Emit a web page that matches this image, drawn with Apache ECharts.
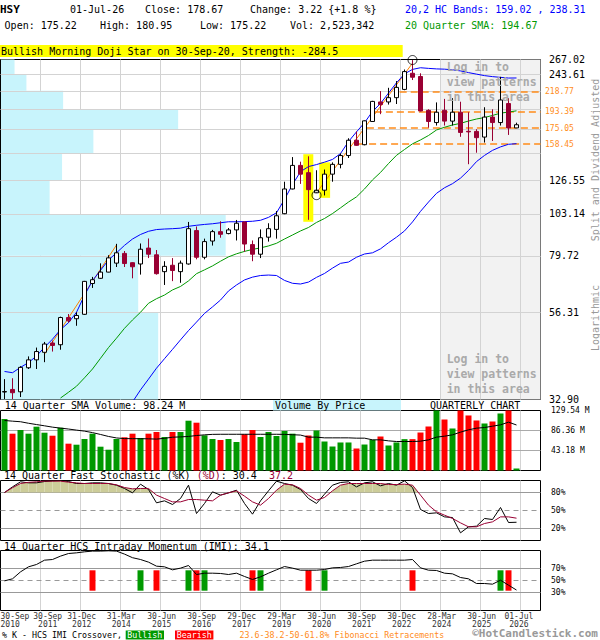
<!DOCTYPE html>
<html><head><meta charset="utf-8">
<script src="https://cdn.jsdelivr.net/npm/echarts@6/dist/echarts.min.js"></script>
<style>html,body{margin:0;padding:0;background:#fff}#c{width:600px;height:640px}</style>
</head><body><div id="c"></div>
<script>
// ---------------- DATA ----------------
const quarters = ['2010Q3','2010Q4','2011Q1','2011Q2','2011Q3','2011Q4','2012Q1','2012Q2','2012Q3','2012Q4',
 '2013Q1','2013Q2','2013Q3','2013Q4','2014Q1','2014Q2','2014Q3','2014Q4','2015Q1','2015Q2',
 '2015Q3','2015Q4','2016Q1','2016Q2','2016Q3','2016Q4','2017Q1','2017Q2','2017Q3','2017Q4',
 '2018Q1','2018Q2','2018Q3','2018Q4','2019Q1','2019Q2','2019Q3','2019Q4','2020Q1','2020Q2',
 '2020Q3','2020Q4','2021Q1','2021Q2','2021Q3','2021Q4','2022Q1','2022Q2','2022Q3','2022Q4',
 '2023Q1','2023Q2','2023Q3','2023Q4','2024Q1','2024Q2','2024Q3','2024Q4','2025Q1','2025Q2',
 '2025Q3','2025Q4','2026Q1','2026Q2','2026Q3'];
const open = [34.45,35.0,34.5,40.0,42.0,44.0,46.6,46.1,54.5,54.1,
 55.6,67.2,69.4,72.1,76.2,80.9,76.4,75.8,83.6,80.2,
 72.3,75.2,72.3,75.8,93.1,79.0,87.3,92.5,91.4,93.5,
 98.2,85.4,80.5,89.4,93.8,103.3,120.3,139.1,133.0,117.5,
 119.4,131.8,140.0,147.8,162.4,158.0,182.3,205.6,205.6,211.1,
 222.1,245.3,240.5,195.2,181.1,195.3,182.7,193.0,171.6,171.5,
 165.6,187.3,181.1,203.6,175.22];
const high = [37.3,37.5,40.4,42.9,45.3,46.9,47.3,54.8,55.7,56.3,
 68.3,70.0,76.1,80.0,85.8,82.1,76.6,86.0,88.7,82.6,
 77.1,78.6,77.4,98.2,95.5,88.6,93.5,98.6,94.6,99.4,
 98.4,87.6,93.8,97.4,105.0,125.8,146.4,142.3,147.1,135.0,
 135.6,141.7,149.6,164.4,171.5,183.5,207.0,219.8,224.3,233.8,
 251.0,266.0,245.3,196.5,205.0,209.5,210.4,205.9,193.0,173.8,
 199.0,196.5,240.0,210.4,180.95];
const low = [33.0,33.0,33.4,39.7,39.7,41.4,44.2,44.7,52.8,51.8,
 55.4,65.4,69.2,72.0,74.4,74.4,69.4,71.0,78.6,71.0,
 66.6,68.2,67.5,75.5,78.0,78.0,84.9,89.1,91.0,87.6,
 81.7,77.1,78.6,87.0,88.6,103.0,120.0,124.1,99.5,117.3,
 115.6,125.8,136.6,145.6,156.8,157.4,182.0,190.7,202.3,203.0,
 221.0,235.3,194.0,175.5,177.8,177.8,177.8,165.9,140.1,150.4,
 160.1,161.7,177.8,167.8,175.22];
const close = [34.55,34.3,40.1,42.0,44.2,46.3,45.9,54.5,53.4,55.2,
 68.1,68.8,72.1,78.7,81.2,76.0,74.5,83.0,80.5,71.4,
 74.7,72.8,76.2,94.2,79.0,87.0,92.5,91.0,93.5,97.4,
 85.7,80.5,89.1,94.2,102.0,120.3,139.1,131.8,119.8,119.4,
 131.8,140.0,147.8,162.4,157.4,183.0,206.3,202.3,211.1,224.9,
 247.9,239.4,194.5,182.3,193.0,182.7,193.0,170.4,171.0,165.0,
 187.3,181.1,208.1,175.1,178.67];
const volume = [111.2,79.5,87.4,79.5,94.6,81.6,75.1,92.4,57.9,55.7,
 68.0,79.5,51.4,44.9,68.0,71.7,79.5,70.2,79.5,83.1,
 72.3,83.1,83.1,107.5,103.2,76.0,68.0,65.8,68.0,61.5,
 78.2,87.4,72.3,83.1,74.5,85.3,79.5,60.0,75.6,86.4,
 62.6,51.8,60.5,60.5,47.5,56.1,66.2,73.4,54.0,60.5,
 67.7,67.7,82.0,95.0,132.0,110.1,90.7,132.0,118.8,108.0,
 101.5,105.8,123.1,132.0,2.52];
const volumeSma = [108,106.5,105.3,102,99.2,96.5,93.6,91.5,89.5,87.2,
 85,81.8,77.8,73.5,70.3,68.9,68.7,68.7,68.4,67.8,
 69.5,71.9,72.5,73.5,75.5,77,78,78.2,78.2,78.2,
 78.2,78.2,78.2,78.2,78.2,78,77.2,76.5,72,72,
 70.5,70.5,70.5,70.5,69.8,69.8,66.2,66.2,64,62.6,
 62.6,62.6,63.3,66.2,72,74.1,77,82.8,87.8,91.4,
 92.8,95.7,98.6,104.4,98.24];
const bandUpper = [39.1,38.8,40.1,41.3,43.0,45.4,47.7,50.6,52.8,56.3,
 62.5,68.4,72.9,77.7,81.2,85.0,88.4,90.9,92.7,93.7,
 94.0,94.2,94.5,95.6,96.2,96.7,97.1,97.7,98.3,98.3,
 98.4,98.6,99.2,101.0,103.9,112.8,123.6,133.8,138.1,139.8,
 141.9,144.3,149.6,161.1,171.0,180.9,193.9,203.6,217.1,231.3,
 244.4,251.2,253.8,252.8,252.0,251.6,250.6,248.9,246.3,244.0,
 241.8,240.3,239.2,238.2,238.31];
const bandLowerStart = 16;
const bandLower = [32.4,34.9,37.3,39.9,42.3,44.8,47.5,50.3,53.0,55.9,
 58.2,60.7,64.2,66.6,68.7,69.9,70.6,70.8,70.6,68.5,
 67.3,67.0,67.8,69.8,71.5,73.9,76.1,76.7,79.0,80.6,
 81.2,83.2,86.4,89.4,92.9,98.2,104.8,111.0,117.1,121.2,
 124.3,128.6,134.8,142.4,147.9,152.6,155.9,158.4,159.02];
const sma20Start = 7;
const sma20 = [33.2,34.4,35.7,37.6,39.7,42.4,45.3,48.0,51.0,53.7,
 56.3,59.5,61.2,62.6,64.6,66.0,68.3,71.4,73.1,74.9,
 77.1,79.2,80.7,81.9,82.9,83.7,84.7,86.1,88.4,90.6,
 92.9,94.9,97.9,100.3,103.4,107.1,111.0,114.6,120.3,127.2,
 133.2,140.7,148.0,153.4,158.9,162.7,167.2,173.0,175.9,178.4,
 180.2,182.8,185.1,186.8,189.2,191.9,193.2,194.67];
const stochK = [80,89.4,97.8,96.1,96.1,98.3,99.4,100,98.3,95,
 95,96.1,96.1,95,92.2,86.7,79.4,93.9,85,62.8,
 66.1,60,70,92.2,45,61.7,81.1,75.6,79.4,83.9,
 61.7,43.9,66.1,82.8,98.9,95,92.2,85,70,61.7,
 77.2,92.2,96.7,97.8,89.4,96.1,97.8,91.1,95,92.2,
 99.4,88.3,51.7,45,46.1,39.4,38.3,12.8,22.8,23.9,
 36.7,35,55,30,30.4];
const stochD = [80,88,95,97,97.8,98.9,98.9,98.9,97.2,96,
 95,95,95,95,92.8,88.3,86.1,86.7,86.7,75.6,
 70,64.4,64.4,68.3,68.3,67.2,66.1,75.6,79.4,82.8,
 73.9,64.4,58.9,70,83.9,93.9,92.8,86.7,75.6,67.2,
 71.7,82.8,92.2,95,95,95,95,95,93.3,93.3,
 93.9,92.2,75.6,58.9,47.8,42.2,36.7,29.4,22.8,22.8,
 28.3,31.1,39.4,39.4,37.2];
const imi = [49.4,52.8,64.4,72.8,76.7,83.9,85,90.6,95,96.1,
 97.8,99,99,99.5,99,94,88,85,80.6,73.9,
 72.8,67.8,70.6,75,60,62.2,62.2,61.7,60,62.2,
 56.7,51.7,56.1,62.2,67.8,73.3,70.6,67.2,67.2,67.2,
 68.3,71.1,71.7,73.3,77.8,82.2,83.9,83.9,83.9,83.9,
 83.9,85,71.1,67.2,66.7,62.2,61.1,55,52.8,45,
 45,43.9,50.5,42.2,34.1];
const bullishCross = [17,23,25,32,40,62];
const bearishCross = [11,19,24,31,38,51,63];
const crossSpan = [33,67];
const stochThreshold = 80;
const priceGrid = [32.90,56.31,79.72,103.14,126.55,149.96,173.37,196.78,220.19,243.61,267.02];
const priceLabels = [267.02,243.61,126.55,103.14,79.72,56.31,32.90];
const fibLevels = [218.77,193.39,175.05,158.45];
const fibStart = [49.4,46.3,45.3,44.2];
const vbpVolume = [29.2,25.5,41.7,9.1,11.4,17.2,32.9,11.6,4.8,2.6]; // % of width, bins bottom->top
const trendLines = [[[5,43.5],[14,85.2]],[[39,117.5],[51,261]]];
const patternBoxes = [[37.35,38.6,98.3,149.0],[39.35,40.7,113.9,141.7]];
const patternCircles = [[39,115.8],[51,266.2]];
const quarterGrid = [4.5,9.5,14.5,19.5,24.5,29.5,34.5,39.5,44.5,49.5,54.5,59.5,64.5];
const shadeFrom = 54.5;
const xLabelPos = [-0.5,5.4,9.65,14.6,19.65,24.65,29.65,34.65,39.65,44.65,49.65,54.65,59.65,64.3];
const xLabelText = ['30-Sep\n2010','30-Sep\n2011','31-Dec\n2012','31-Mar\n2014','30-Jun\n2015','30-Sep\n2016','29-Dec\n2017','29-Mar\n2019','30-Jun\n2020','30-Sep\n2021','30-Dec\n2022','28-Mar\n2024','30-Jun\n2025','01-Jul\n2026'];
const volTicks = [43.18,86.36,129.54];
const stochTicks = [20,50,80];
const imiTicks = [30,50,70];

// ---------------- CHART ----------------
const FONT = '"DejaVu Sans Mono", monospace';
const XMIN = -0.5, XMAX = 67;
const PMIN = priceGrid[0], PMAX = priceGrid[priceGrid.length-1];
const chart = echarts.init(document.getElementById('c'), null, {renderer:'svg'});

const grids = [
  {left:0.5, top:59.5, width:540, height:340},
  {left:0.5, top:410.5, width:540, height:60},
  {left:0.5, top:480.5, width:540, height:60},
  {left:0.5, top:550.5, width:540, height:60}
].map(g => Object.assign({show:true, borderColor:'#000', borderWidth:1, backgroundColor:'#fff', containLabel:false, outerBoundsMode:'none'}, g));

const hiddenX = (gi) => ({type:'value', gridIndex:gi, min:XMIN, max:XMAX, show:false});
const xAxes = [
  hiddenX(0),
  {type:'value', gridIndex:0, min:0, max:100, show:false},
  hiddenX(1), hiddenX(2),
  {type:'value', gridIndex:3, min:XMIN, max:XMAX, axisLine:{show:false}, axisTick:{show:false}, splitLine:{show:false},
   axisLabel:{customValues:xLabelPos, alignMinLabel:'left', fontFamily:FONT, fontSize:8, lineHeight:8, color:'#333', margin:1.5,
     formatter:(v)=>{let k=0,b=1e9; xLabelPos.forEach((p,i)=>{const d=Math.abs(p-v); if(d<b){b=d;k=i;}}); return xLabelText[k];}}}
];
const lab = (vals, fmt, size, color, margin, extra) => Object.assign({customValues:vals, formatter:fmt, fontFamily:FONT, fontSize:size, color:color, margin:margin, align:'left'}, extra||{});
const yAxes = [
  {type:'log', gridIndex:0, min:PMIN, max:PMAX, position:'right', axisLine:{show:false}, axisTick:{show:false}, splitLine:{show:false},
   axisLabel: lab(priceLabels, v=>Number(v).toFixed(2), 10, '#000', 8.5, {verticalAlign:'middle', padding:[0,0,6,0]})},
  {type:'log', gridIndex:0, min:PMIN, max:PMAX, position:'right', axisLine:{show:false}, axisTick:{show:false}, splitLine:{show:false},
   axisLabel: lab(fibLevels, v=>Number(v).toFixed(2), 8, '#ff8c1a', 4.5, {verticalAlign:'middle'})},
  {type:'value', gridIndex:1, min:0, max:volTicks[2], position:'right', axisLine:{show:false}, axisTick:{show:false}, splitLine:{show:false},
   axisLabel: lab(volTicks, v=>Number(v).toFixed(2)+' M', 8, '#000', 10.5, {verticalAlign:'middle', padding:[5,0,0,0]})},
  {type:'value', gridIndex:2, min:0, max:100, position:'right', axisLine:{show:false}, axisTick:{show:false}, splitLine:{show:false},
   axisLabel: lab(stochTicks, v=>Math.round(v)+'%', 8, '#000', 10.5)},
  {type:'value', gridIndex:3, min:0, max:100, position:'right', axisLine:{show:false}, axisTick:{show:false}, splitLine:{show:false},
   axisLabel: lab(imiTicks, v=>Math.round(v)+'%', 8, '#000', 10.5)}
];

const linesSeries = (xi, yi, segs, color, z, extra) => Object.assign({
  type:'lines', coordinateSystem:'cartesian2d', xAxisIndex:xi, yAxisIndex:yi, silent:true, z:z,
  data: segs.map(c => ({coords:c})), lineStyle:{color:color, width:1, opacity:1, curveness:0}, effect:{show:false}
}, extra||{});
const vGrid = (xi, yi, y0, y1) => linesSeries(xi, yi, quarterGrid.map(x => [[x,y0],[x,y1]]), '#d3d3d3', 1);
const lineS = (xi, yi, arr, start, color, z) => ({
  type:'line', xAxisIndex:xi, yAxisIndex:yi, data: arr.map((v,i)=>[i+start, v]), showSymbol:false, symbol:'none',
  lineStyle:{color:color, width:1}, silent:true, z:z, emphasis:{disabled:true}
});

const series = [];
// main panel
series.push({type:'custom', xAxisIndex:0, yAxisIndex:0, z:0, silent:true, data:[[shadeFrom, XMAX]],
  renderItem:(p, api)=>{const a=api.coord([api.value(0), PMAX]), b=api.coord([api.value(1), PMIN]);
    return {type:'group', children:[
      {type:'rect', shape:{x:a[0], y:a[1], width:b[0]-a[0], height:b[1]-a[1]}, style:{fill:'#f2f2f2'}},
      {type:'line', shape:{x1:a[0], y1:a[1], x2:a[0], y2:b[1]}, style:{stroke:'#999', lineWidth:1}}]};}});
series.push(vGrid(0, 0, PMIN, PMAX));
series.push({type:'custom', xAxisIndex:1, yAxisIndex:0, z:2, silent:true,
  data: vbpVolume.map((w,i)=>[w, priceGrid[i], priceGrid[i+1]]), encode:{x:0, y:[1,2]},
  renderItem:(p, api)=>{const a=api.coord([0, api.value(2)]), b=api.coord([api.value(0), api.value(1)]);
    return {type:'rect', shape:{x:a[0]+0.5, y:a[1], width:b[0]-a[0]-0.5, height:b[1]-a[1]}, style:{fill:'#c8f4fc'}};}});
series.push(linesSeries(0, 0, priceGrid.slice(1,-1).map(v=>[[XMIN,v],[XMAX,v]]), '#d3d3d3', 3));
series.push({type:'custom', xAxisIndex:0, yAxisIndex:0, z:3, silent:true, data:patternBoxes, encode:{x:[0,1], y:[2,3]},
  renderItem:(p, api)=>{const a=api.coord([api.value(0), api.value(3)]), b=api.coord([api.value(1), api.value(2)]);
    return {type:'rect', shape:{x:a[0], y:a[1], width:b[0]-a[0], height:b[1]-a[1]}, style:{fill:'#ffff00'}};}});
series.push(linesSeries(0, 0, fibLevels.map((v,i)=>[[fibStart[i],v],[XMAX,v]]), '#ff8c1a', 4, {lineStyle:{color:'#ff8c1a', width:1.5, opacity:1, type:[7,4], curveness:0}}));
series.push(linesSeries(0, 0, trendLines, '#ff8000', 4));
series.push(lineS(0, 0, bandUpper, 0, '#0000ff', 5));
series.push(lineS(0, 0, bandLower, bandLowerStart, '#0000ff', 5));
series.push(lineS(0, 0, sma20, sma20Start, '#009900', 5));
series.push({type:'candlestick', xAxisIndex:0, yAxisIndex:0, z:6, silent:true, barWidth:5,
  dimensions:['t','open','close','lowest','highest'], encode:{x:'t', y:['open','close','lowest','highest']},
  data: open.map((o,i)=>[i, o, close[i], low[i], high[i]]),
  itemStyle:{color:'#ffffff', color0:'#990033', borderColor:'#000000', borderColor0:'#990033', borderWidth:1}});
series.push({type:'scatter', xAxisIndex:0, yAxisIndex:0, z:7, silent:true, data:patternCircles, symbol:'circle', symbolSize:9,
  itemStyle:{color:'rgba(0,0,0,0)', borderColor:'#000', borderWidth:1}});
// volume panel
series.push(vGrid(2, 2, 0, volTicks[2]));
series.push(linesSeries(2, 2, volTicks.slice(0,2).map(v=>[[XMIN,v],[XMAX,v]]), '#aaaaaa', 2));
series.push({type:'bar', xAxisIndex:2, yAxisIndex:2, z:4, silent:true, barWidth:6, barMinHeight:2,
  data: volume.map((v,i)=>({value:[i,v], itemStyle:{color: close[i]>=open[i] ? '#009900' : '#ff0000'}}))});
series.push(lineS(2, 2, volumeSma, 0, '#000000', 6));
// stochastic panel
series.push(vGrid(3, 3, 0, 100));
series.push(linesSeries(3, 3, [[[XMIN,80],[XMAX,80]],[[XMIN,20],[XMAX,20]]], '#999999', 2));
series.push(linesSeries(3, 3, [[[XMIN,50],[XMAX,50]]], '#999999', 2, {lineStyle:{color:'#999', width:1, opacity:1, type:[5,4], curveness:0}}));
series.push({type:'custom', xAxisIndex:3, yAxisIndex:3, z:3, silent:true,
  data: stochD.slice(0,-1).map((d,i)=>[i, d, stochD[i+1]]), encode:{x:0, y:1},
  renderItem:(p, api)=>{const x0=api.value(0), a=api.value(1), b=api.value(2), T=stochThreshold, x1=x0+1; let pts;
    if(a<=T && b<=T) return null;
    if(a>T && b>T) pts=[[x0,T],[x0,a],[x1,b],[x1,T]];
    else if(a>T){const xc=x0+(a-T)/(a-b); pts=[[x0,T],[x0,a],[xc,T]];}
    else {const xc=x0+(T-a)/(b-a); pts=[[xc,T],[x1,b],[x1,T]];}
    return {type:'polygon', shape:{points:pts.map(q=>api.coord(q))}, style:{fill:'#cccc99'}};}});
series.push(lineS(3, 3, stochK, 0, '#000000', 5));
series.push(lineS(3, 3, stochD, 0, '#990033', 5));
// IMI panel
series.push(vGrid(4, 4, 0, 100));
series.push(linesSeries(4, 4, [[[XMIN,70],[XMAX,70]],[[XMIN,30],[XMAX,30]]], '#999999', 2));
series.push(linesSeries(4, 4, [[[XMIN,50],[XMAX,50]]], '#999999', 2, {lineStyle:{color:'#999', width:1, opacity:1, type:[5,4], curveness:0}}));
series.push({type:'custom', xAxisIndex:4, yAxisIndex:4, z:3, silent:true,
  data: bullishCross.map(i=>[i, crossSpan[0], crossSpan[1], 1]).concat(bearishCross.map(i=>[i, crossSpan[0], crossSpan[1], 0])),
  encode:{x:0, y:[1,2]},
  renderItem:(p, api)=>{const a=api.coord([api.value(0), api.value(2)]), b=api.coord([api.value(0), api.value(1)]);
    return {type:'rect', shape:{x:a[0]-3, y:a[1], width:6, height:b[1]-a[1]}, style:{fill: api.value(3)===1 ? '#009900' : '#ff0000'}};}});
series.push(lineS(4, 4, imi, 0, '#000000', 5));

// texts
function T(x, y, text, font, color, extra){
  return {type:'text', x:x, y:y, z:100, silent:true, style:Object.assign({text:text, font:font, fill:color||'#000',
    align:'left', verticalAlign:'middle', textAlign:'left', textVerticalAlign:'middle'}, extra||{})};
}
const F10 = '10px '+FONT;
const graphics = [
  T(0, 9.5, 'HSY', 'bold 11px '+FONT),
  T(70, 9.5, '01-Jul-26', F10),
  T(145, 9.5, 'Close: 178.67', F10),
  T(250, 9.5, 'Change: 3.22 {+1.8 %}', F10),
  T(405, 9.5, '20,2 HC Bands: 159.02 , 238.31', F10, '#0000ff'),
  T(4.6, 25, 'Open: 175.22', F10),
  T(100, 25, 'High: 180.95', F10),
  T(200, 25, 'Low: 175.22', F10),
  T(290, 25, 'Vol: 2,523,342', F10),
  T(405, 25, '20 Quarter SMA: 194.67', F10, '#009900'),
  {type:'rect', z:90, silent:true, shape:{x:0, y:45, width:402.7, height:12}, style:{fill:'#ffff00'}},
  T(1, 51, 'Bullish Morning Doji Star on 30-Sep-20, Strength: -284.5', F10),
  T(446.7, 60, 'Log in to\nview patterns\nin this area', 'bold 11.5px '+FONT, '#aaaaaa', {verticalAlign:'top', textVerticalAlign:'top', lineHeight:14.7}),
  T(446.7, 352, 'Log in to\nview patterns\nin this area', 'bold 11.5px '+FONT, '#aaaaaa', {verticalAlign:'top', textVerticalAlign:'top', lineHeight:14.7}),
  {type:'text', x:595, y:160, z:100, rotation:Math.PI/2, silent:true, style:{text:'Split and Dividend Adjusted', font:F10, fill:'#999', align:'center', verticalAlign:'middle', textAlign:'center', textVerticalAlign:'middle'}},
  {type:'text', x:595, y:318, z:100, rotation:Math.PI/2, silent:true, style:{text:'Logarithmic', font:F10, fill:'#999', align:'center', verticalAlign:'middle', textAlign:'center', textVerticalAlign:'middle'}},
  T(4.7, 405.5, '14 Quarter SMA Volume: 98.24 M', F10),
  {type:'rect', z:90, silent:true, shape:{x:273, y:400, width:128, height:10.5}, style:{fill:'#c8f4fc'}},
  T(275, 405.5, 'Volume By Price', F10),
  T(430, 405.5, 'QUARTERLY CHART', F10),
  {type:'text', x:4, y:475.5, z:100, silent:true, style:{text:'14 Quarter Fast Stochastic (%K) {m|(%D)}: 30.4  {m|37.2}', font:F10, fill:'#000', align:'left', verticalAlign:'middle', textAlign:'left', textVerticalAlign:'middle',
    rich:{m:{fill:'#990033', font:F10}}}},
  T(4, 546, '14 Quarter HCS Intraday Momentum (IMI): 34.1', F10),
  T(2, 635, '% K - HCS IMI Crossover,', '8.3px '+FONT),
  {type:'rect', z:90, silent:true, shape:{x:125.7, y:630.5, width:38.3, height:9}, style:{fill:'#009900'}},
  T(144.8, 635, 'Bullish', '8.3px '+FONT, '#fff', {align:'center', textAlign:'center'}),
  {type:'rect', z:90, silent:true, shape:{x:175, y:630.5, width:38.4, height:9}, style:{fill:'#ff0000'}},
  T(194.2, 635, 'Bearish', '8.3px '+FONT, '#fff', {align:'center', textAlign:'center'}),
  T(239.5, 635, '23.6-38.2-50-61.8% Fibonacci Retracements', '8.3px '+FONT, '#ff8c1a'),
  T(598, 633.8, '\u00A9HotCandlestick.com', 'bold 11px '+FONT, '#999999', {align:'right', textAlign:'right', lineHeight:11})
];

chart.setOption({
  animation:false,
  backgroundColor:'#fff',
  textStyle:{fontFamily:FONT},
  grid:grids, xAxis:xAxes, yAxis:yAxes, series:series,
  graphic:{elements:graphics}
});
</script></body></html>
